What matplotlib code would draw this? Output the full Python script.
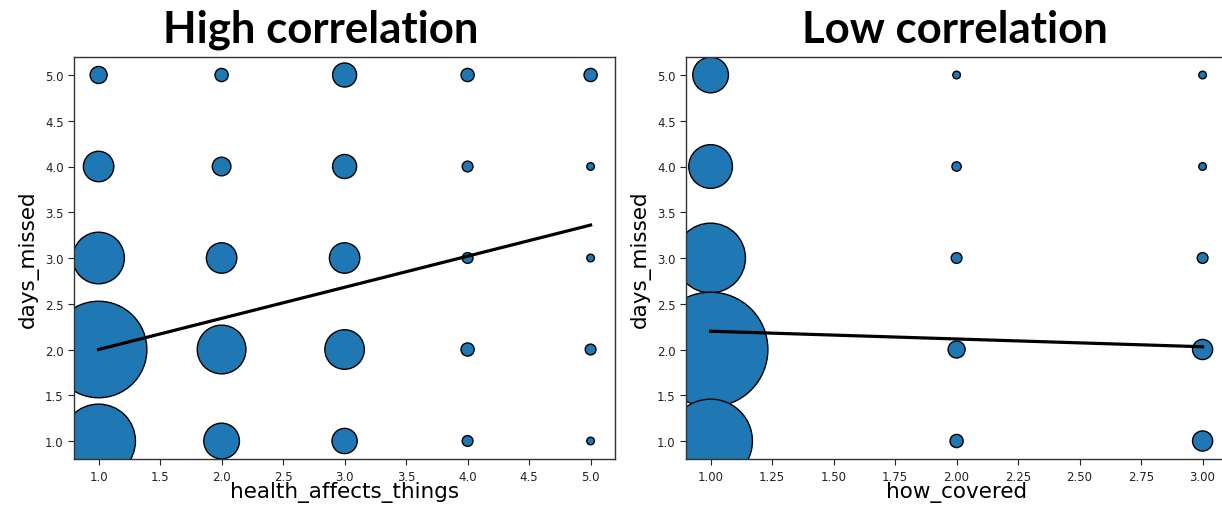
import numpy as np
import matplotlib
matplotlib.use("Agg")
import matplotlib.pyplot as plt

# response counts per (x, days_missed) cell
days_levels = [5, 4, 3, 2, 1]

health_levels = [1, 2, 3, 4, 5]
health_counts = [
    [5, 3, 10, 3, 3],      # days_missed = 5
    [16, 6, 10, 2, 1],     # 4
    [46, 16, 16, 2, 1],    # 3
    [161, 41, 27, 3, 2],   # 2
    [94, 22, 11, 2, 1],    # 1
]
health_fit_x = [1, 5]
health_fit_y = [2.0, 3.36]

covered_levels = [1, 2, 3]
covered_counts = [
    [22, 1, 1],
    [33, 1.5, 1],
    [84, 2, 2],
    [227, 5, 7],
    [121, 3, 7],
]
covered_fit_x = [1, 3]
covered_fit_y = [2.2, 2.03]

SIZE_PER_COUNT = 30
FIG_W, FIG_H = 1222, 510


def bubble_panel(ax, xs, counts, fit_x, fit_y, xlabel, xticks, fmt):
    gx, gy = np.meshgrid(xs, days_levels)
    sizes = np.asarray(counts, dtype=float) * SIZE_PER_COUNT
    ax.scatter(gx.ravel(), gy.ravel(), s=sizes.ravel(), color="#1f77b4",
               edgecolors="black", linewidths=1.0, zorder=2)
    ax.plot(fit_x, fit_y, color="black", lw=2.3, zorder=3)
    pad = 0.05 * (xs[-1] - xs[0])
    ax.set_xlim(xs[0] - pad, xs[-1] + pad)
    ax.set_ylim(0.8, 5.2)
    ax.set_xticks(xticks)
    ax.set_xticklabels([fmt.format(t) for t in xticks])
    ax.set_yticks(np.arange(1.0, 5.01, 0.5))
    ax.set_yticklabels([f"{t:.1f}" for t in np.arange(1.0, 5.01, 0.5)])
    ax.tick_params(labelsize=8.5, colors="#222222", length=4)
    ax.set_xlabel(xlabel, fontsize=15.5)
    ax.set_ylabel("days_missed", fontsize=15.5)
    ax.xaxis.set_label_coords(0.5, -0.08)
    ax.xaxis.label.set_va("center")
    ax.yaxis.set_label_coords(-0.085, 0.5)
    ax.yaxis.label.set_va("center")
    for sp in ax.spines.values():
        sp.set_linewidth(1.0)
        sp.set_color("#333333")


fig = plt.figure(figsize=(FIG_W / 100, FIG_H / 100), dpi=100)

ax1 = fig.add_axes([74 / FIG_W, 49.7 / FIG_H, 541.2 / FIG_W, 402.6 / FIG_H])
bubble_panel(ax1, health_levels, health_counts, health_fit_x, health_fit_y,
             "health_affects_things", np.arange(1.0, 5.01, 0.5), "{:.1f}")

ax2 = fig.add_axes([686 / FIG_W, 49.7 / FIG_H, 541.2 / FIG_W, 402.6 / FIG_H])
bubble_panel(ax2, covered_levels, covered_counts, covered_fit_x, covered_fit_y,
             "how_covered", np.arange(1.0, 3.01, 0.25), "{:.2f}")

title_kw = dict(fontsize=31.5, fontweight="bold", family=["Lato", "DejaVu Sans"],
                ha="center", va="baseline")
fig.text(321 / FIG_W, 1 - 43 / FIG_H, "High correlation", **title_kw)
fig.text(955 / FIG_W, 1 - 43 / FIG_H, "Low correlation", **title_kw)

fig.savefig("out.png", dpi=100)
